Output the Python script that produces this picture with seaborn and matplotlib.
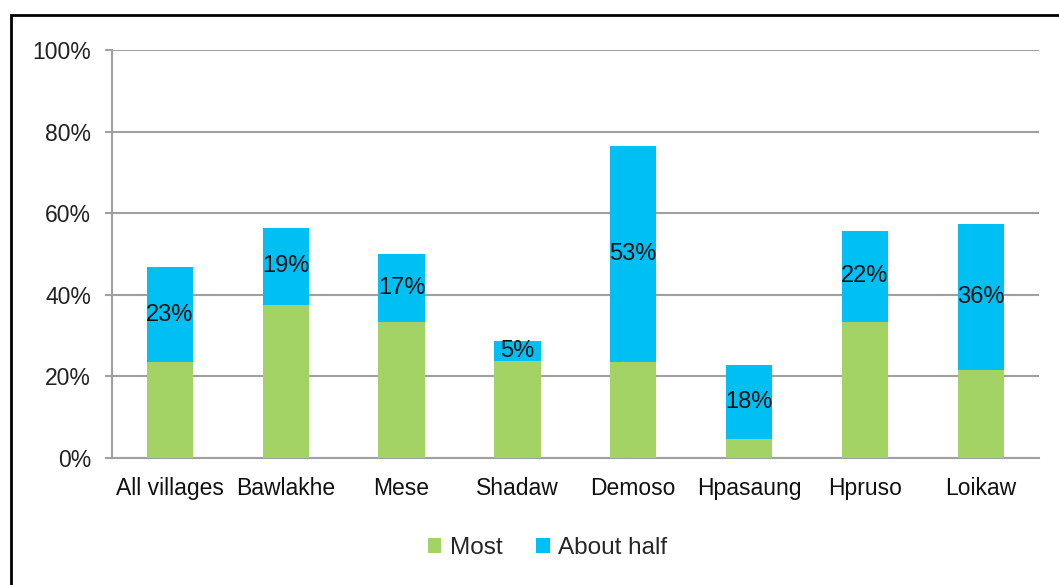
import pandas as pd
import numpy as np
import matplotlib
matplotlib.use("Agg")
import matplotlib.pyplot as plt
import seaborn as sns
from matplotlib.patches import Rectangle
from matplotlib.ticker import FixedLocator

villages = ["All villages", "Bawlakhe", "Mese", "Shadaw", "Demoso", "Hpasaung", "Hpruso", "Loikaw"]
most = [23.5, 37.6, 33.4, 23.9, 23.6, 4.6, 33.4, 21.5]
about_half = [23.3, 18.8, 16.6, 4.8, 52.9, 18.2, 22.2, 35.8]
y_ticks = [0, 20, 40, 60, 80, 100]

green = "#A2D364"
blue = "#00BFF3"
grey = "#A0A0A0"

sns.set_style("white")
plt.rcParams["font.family"] = ["Liberation Sans", "DejaVu Sans"]

df = pd.DataFrame({"village": villages, "most": most, "half": about_half})
df["total"] = df["most"] + df["half"]

fig = plt.figure(figsize=(10.59, 5.85), dpi=100)
ax = fig.add_axes([0.1058, 0.217, 0.875, 0.6975])

# blue = total, green drawn over it
sns.barplot(data=df, x="village", y="total", color=blue, width=0.4, linewidth=0,
            saturation=1, ax=ax, zorder=2, label="About half")
sns.barplot(data=df, x="village", y="most", color=green, width=0.4, linewidth=0,
            saturation=1, ax=ax, zorder=3, label="Most")

# labels in middle of blue part
for i, row in df.iterrows():
    ax.text(i, row["most"] + row["half"] / 2, f"{row['half']:.0f}%",
            ha="center", va="center", fontsize=17, color="#111111", zorder=4)

ax.set_ylim(0, 100)
ax.set_xlim(-0.5, len(villages) - 0.5)
ax.set_yticks(y_ticks)
ax.set_yticklabels([f"{t}%" for t in y_ticks])
ax.yaxis.grid(True, color=grey, linewidth=1.5, zorder=0)
ax.set_axisbelow(True)
ax.set_xlabel("")
ax.set_ylabel("")

for s in ["top", "right"]:
    ax.spines[s].set_visible(False)
for s in ["left", "bottom"]:
    ax.spines[s].set_color(grey)
    ax.spines[s].set_linewidth(1.5)

ax.xaxis.set_minor_locator(FixedLocator(np.arange(-0.5, len(villages), 1)))
ax.tick_params(axis="x", which="major", length=0, pad=14, labelsize=16.5, colors="#111111")
ax.tick_params(axis="x", which="minor", length=5, width=1.5, color=grey, direction="out")
ax.tick_params(axis="y", length=5, width=1.5, color=grey, pad=10, labelsize=16.5,
               labelcolor="#222222", direction="out", left=True)

handles, labels = ax.get_legend_handles_labels()
order = [labels.index("Most"), labels.index("About half")]
fig.legend([handles[k] for k in order], ["Most", "About half"], loc="center",
           bbox_to_anchor=(0.517, 0.063), ncol=2, frameon=False, fontsize=17.5,
           handlelength=0.55, handleheight=0.55, handletextpad=0.35, columnspacing=1.4)
if ax.get_legend():
    ax.get_legend().remove()

# outer frame
fig.patches.append(Rectangle((11 / 1059, -0.05), 1.1, 1.05 - 15 / 585, transform=fig.transFigure,
                             fill=False, edgecolor="black", linewidth=2))

fig.savefig("out.png", dpi=100)
